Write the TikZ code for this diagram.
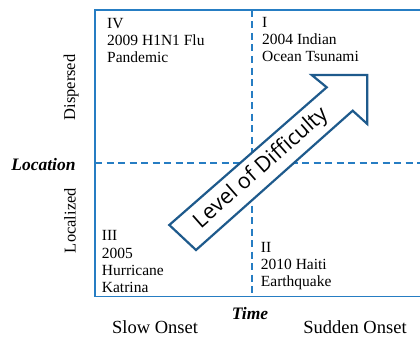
\documentclass[tikz,border=0pt]{standalone}
\usepackage{fontspec}
\setmainfont{Liberation Serif}
\newfontfamily\arrowfont{Open Sans}
\usetikzlibrary{calc}
\definecolor{gridblue}{RGB}{38,125,195}
\definecolor{arrowblue}{RGB}{30,90,140}
\tikzset{
    frame/.style={draw=gridblue, line width=1.6pt},
    divider/.style={draw=gridblue, line width=1.6pt, dash pattern=on 7pt off 4.5pt},
    bigarrow/.style={draw=arrowblue, line width=2.2pt, fill=white, line join=miter},
    quadtext/.style={anchor=north west, inner sep=0pt, align=left, font=\fontsize{15.5}{17.3}\selectfont},
    sidetext/.style={anchor=base, inner sep=0pt, rotate=90, font=\fontsize{16.5}{18}\selectfont},
    axistitle/.style={anchor=base, inner sep=0pt, font=\fontsize{17.5}{20}\selectfont\bfseries\itshape},
    onsettext/.style={anchor=base, inner sep=0pt, font=\fontsize{18.5}{20}\selectfont}
}
\begin{document}
\begin{tikzpicture}[x=1pt, y=-1pt]
    \useasboundingbox (0,0) rectangle (420,337);
    % quadrant grid
    \coordinate (topleft) at (95,10);
    \coordinate (botleft) at (95,296.5);
    \coordinate (topright) at (425,10);
    \coordinate (botright) at (425,296.5);
    \coordinate (vtop) at (251.7,10);
    \coordinate (vbot) at (251.7,296.5);
    \coordinate (hleft) at (95,163);
    \coordinate (hright) at (425,163);
    \draw [divider] (vtop) -- (vbot);
    \draw [divider] (hleft) -- (hright);
    \draw [frame] (topright) -- (topleft) -- (botleft) -- (botright);
    % arrow
    \coordinate (tailA) at (169.3,225);
    \coordinate (notchA) at (326.7,87.3);
    \coordinate (headA) at (311.7,75);
    \coordinate (tip) at (367.3,75);
    \coordinate (headB) at (367.3,124);
    \coordinate (notchB) at (352.7,110.7);
    \coordinate (tailB) at (196,250);
    \draw [bigarrow] (tailA) -- (notchA) -- (headA) -- (tip) -- (headB) -- (notchB) -- (tailB) -- cycle;
    \node [rotate=41.4, inner sep=0pt, font=\arrowfont\fontsize{21.5}{24}\selectfont]
        (difficulty) at ($(tailA)!0.5!(tailB)!0.5!($(notchA)!0.5!(notchB)$)$) {Level of Difficulty};
    % quadrants
    \node [quadtext] (q4) at (107,17.7) {IV\\2009 H1N1 Flu\\Pandemic};
    \node [quadtext] (q1) at (262,16.7) {I\\2004 Indian\\Ocean Tsunami};
    \node [quadtext] (q3) at (101.7,230.4) {III\\2005\\Hurricane\\Katrina};
    \node [quadtext] (q2) at (260.7,241.7) {II\\2010 Haiti\\Earthquake};
    % axes
    \node [sidetext] (dispersed) at (75,87.5) {Dispersed};
    \node [sidetext] (localized) at (75.5,220.5) {Localized};
    \node [axistitle] (location) at (43.5,170.5) {Location};
    \node [axistitle] (time) at (250,319) {Time};
    \node [onsettext] (slow) at (155,333.5) {Slow Onset};
    \node [onsettext] (sudden) at (355,333.5) {Sudden Onset};
\end{tikzpicture}
\end{document}
